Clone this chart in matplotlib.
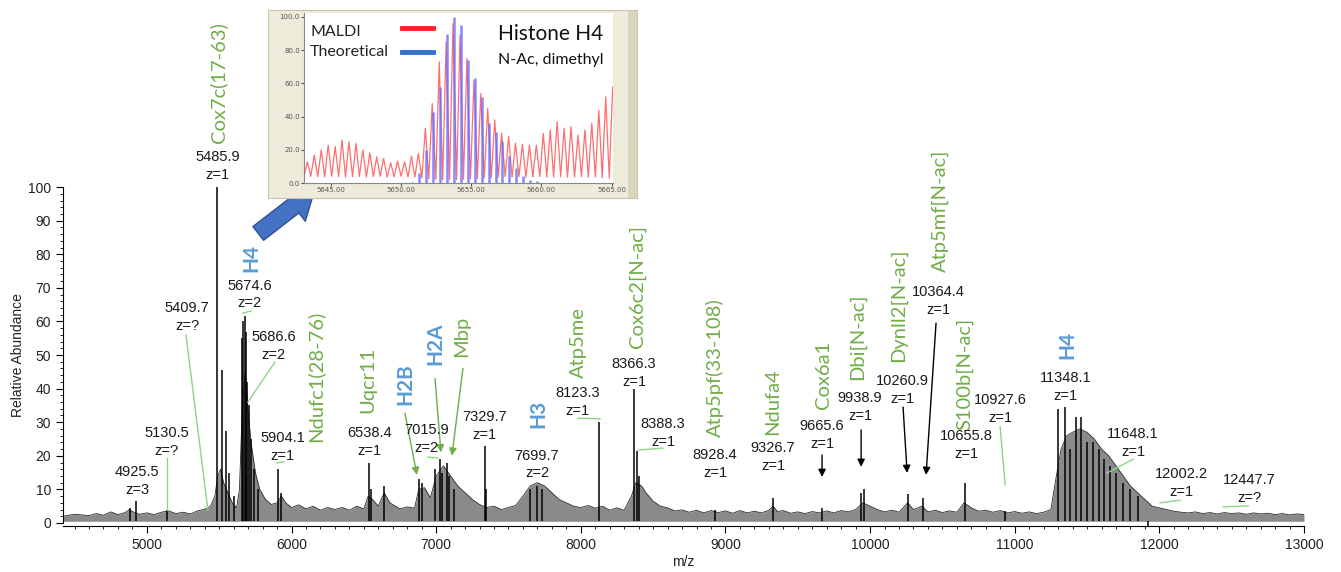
import numpy as np
import matplotlib.pyplot as plt
from matplotlib.ticker import MultipleLocator, FixedLocator, FormatStrFormatter

# ---------------- main spectrum data ----------------
# upper edge of the dense (gray) trace
env_mz = [4420, 4500, 4600, 4650, 4700, 4750, 4800, 4850, 4880, 4900, 4950, 5000, 5050, 5100,
          5150, 5200, 5250, 5300, 5350, 5400, 5440, 5470, 5490, 5510, 5530, 5560, 5590, 5620,
          5640, 5660, 5680, 5700, 5720, 5750, 5780, 5820, 5860, 5900, 5930, 5960, 6000, 6050,
          6100, 6150, 6200, 6250, 6300, 6350, 6400, 6450, 6500, 6530, 6560, 6600, 6640, 6680,
          6750, 6800, 6850, 6880, 6920, 6960, 7000, 7050, 7100, 7150, 7200, 7250, 7300, 7350,
          7400, 7450, 7500, 7550, 7600, 7650, 7700, 7750, 7800, 7850, 7900, 7950, 8000, 8050,
          8100, 8150, 8200, 8250, 8300, 8350, 8380, 8420, 8450, 8500, 8550, 8600, 8650, 8700,
          8750, 8800, 8850, 8900, 8950, 9000, 9050, 9100, 9150, 9200, 9250, 9300, 9330, 9360,
          9400, 9450, 9500, 9550, 9600, 9650, 9700, 9750, 9800, 9850, 9900, 9950, 10000, 10050,
          10100, 10150, 10200, 10260, 10300, 10360, 10400, 10450, 10500, 10550, 10600, 10650,
          10700, 10750, 10800, 10850, 10900, 10950, 11000, 11050, 11100, 11150, 11200, 11250,
          11280, 11320, 11360, 11400, 11450, 11500, 11550, 11600, 11650, 11700, 11750, 11800,
          11850, 11900, 11950, 12000, 12050, 12100, 12150, 12200, 12250, 12300, 12350, 12400,
          12450, 12500, 12550, 12600, 12650, 12700, 12750, 12800, 12850, 12900, 12950, 13000]
env_top = [2.0, 2.6, 2.2, 2.8, 2.3, 3.3, 2.5, 3.1, 4.0, 3.4, 2.6, 3.0, 2.5, 3.2,
           3.6, 2.8, 3.2, 2.7, 3.6, 4.1, 5.0, 8.0, 14.0, 16.0, 12.0, 9.0, 6.0, 4.5,
           10.0, 35.0, 45.0, 33.0, 24.0, 15.0, 10.0, 7.0, 5.5, 6.0, 8.0, 6.0, 4.6, 5.4,
           4.2, 5.0, 3.8, 4.6, 4.0, 4.6, 3.8, 5.0, 4.2, 8.0, 7.0, 5.0, 9.0, 6.0,
           4.2, 4.8, 4.4, 10.0, 10.5, 7.5, 14.0, 17.0, 14.0, 11.0, 9.0, 7.0, 5.5, 4.6,
           5.0, 4.0, 4.6, 5.2, 8.0, 11.0, 12.0, 11.0, 9.0, 7.0, 6.0, 5.0, 4.6, 5.2,
           4.4, 5.0, 3.8, 4.5, 3.8, 8.0, 12.0, 11.0, 9.0, 6.5, 5.0, 4.5, 3.6, 3.9,
           3.2, 3.8, 3.0, 3.7, 3.1, 3.6, 2.9, 3.7, 3.0, 3.5, 3.0, 3.8, 5.0, 3.4,
           3.7, 2.9, 3.3, 2.8, 3.4, 3.0, 3.6, 3.0, 3.7, 3.3, 4.0, 6.0, 5.0, 4.0,
           3.3, 3.8, 3.2, 6.0, 4.0, 5.0, 3.3, 3.8, 3.1, 3.6, 3.2, 6.0,
           4.5, 3.5, 3.8, 3.2, 3.7, 3.0, 3.4, 2.9, 3.3, 2.8, 3.2, 4.0,
           12.0, 22.0, 26.0, 27.0, 28.0, 27.0, 25.0, 22.0, 20.0, 17.0, 14.0, 11.0,
           9.0, 7.0, 5.0, 4.5, 4.0, 3.5, 3.2, 3.0, 3.3, 2.8, 3.1, 2.7,
           3.1, 2.8, 3.0, 2.6, 3.0, 2.7, 2.9, 2.5, 2.8, 2.4, 2.7, 2.5]

# resolved peaks (black sticks)
peak_mz = [4880, 4925, 5138, 5486, 5520, 5545, 5570, 5600, 5655, 5665, 5675, 5686, 5695,
           5705, 5720, 5740, 5770, 5904, 5925, 6538, 6548, 6640, 6880, 6900, 6990, 7026,
           7040, 7075, 7090, 7120, 7337, 7345, 7650, 7700, 7730, 8125, 8366, 8388, 8400,
           8930, 9329, 9668, 9938, 9960, 10260, 10364, 10656, 10930, 11300, 11349, 11380,
           11425, 11459, 11500, 11540, 11580, 11620, 11660, 11700, 11750, 11800, 11850, 11922]
peak_height = [4.5, 6.5, 4.0, 100, 45.5, 27.5, 15, 8, 55, 60, 61.5, 57, 42,
               35, 25, 16, 10, 16, 9, 18, 10, 11, 13, 12, 16, 19,
               15, 18, 14, 10, 23, 10, 10, 11, 10, 30, 40, 21.5, 14,
               4, 7.5, 4.5, 9, 10, 8.5, 7.5, 12, 3.5, 34, 34.5, 22,
               31.5, 31.5, 24, 24, 22, 19, 17, 15, 12, 10, 8, -2.5]

label_mass = ["4925.5", "5130.5", "5409.7", "5485.9", "5674.6", "5686.6", "5904.1",
              "6538.4", "7015.9", "7329.7", "7699.7", "8123.3", "8366.3", "8388.3",
              "8928.4", "9326.7", "9665.6", "9938.9", "10260.9", "10364.4", "10655.8",
              "10927.6", "11348.1", "11648.1", "12002.2", "12447.7"]
label_charge = ["3", "?", "?", "1", "2", "2", "1",
                "1", "2", "1", "2", "1", "1", "1",
                "1", "1", "1", "1", "1", "1", "1",
                "1", "1", "1", "1", "?"]
protein_names = ["Cox7c(17-63)", "Ndufc1(28-76)", "Uqcr11", "Mbp", "Atp5me", "Cox6c2[N-ac]",
                 "Atp5pf(33-108)", "Ndufa4", "Cox6a1", "Dbi[N-ac]", "Dynll2[N-ac]",
                 "Atp5mf[N-ac]", "S100b[N-ac]"]
histone_names = ["H4", "H2B", "H2A", "H3", "H4"]

# ---------------- inset (Histone H4) data ----------------
maldi_mz = [5643.34, 5643.83, 5644.33, 5644.82, 5645.32, 5645.81, 5646.30, 5646.80, 5647.29,
            5647.79, 5648.28, 5648.77, 5649.27, 5649.76, 5650.26, 5650.75, 5651.24, 5651.74,
            5652.23, 5652.73, 5653.22, 5653.71, 5654.21, 5654.70, 5655.20, 5655.69, 5656.18,
            5656.68, 5657.17, 5657.67, 5658.16, 5658.65, 5659.15, 5659.64, 5660.14, 5660.63,
            5661.12, 5661.62, 5662.11, 5662.61, 5663.10, 5663.59, 5664.09, 5664.58, 5665.08]
maldi_height = [12.8, 16.8, 20.0, 22.8, 22.0, 25.9, 24.8, 23.8, 19.8, 18.2, 15.8, 14.8, 12.2,
                13.2, 12.8, 16.2, 17.8, 32.9, 47.9, 72.9, 85.0, 96.0, 89.0, 75.0, 62.0, 54.0,
                45.0, 38.0, 30.0, 28.0, 24.0, 23.4, 22.8, 22.8, 29.9, 31.9, 36.9, 32.9, 33.9,
                28.9, 31.9, 35.9, 43.9, 51.9, 57.9]
maldi_valley = [3.5, 4.0, 3.8, 3.6, 4.0, 3.8, 3.5, 3.8, 4.0, 3.6, 3.8, 4.0, 3.5,
                3.8, 4.0, 3.6, 3.5, 3.0, 2.5, 2.2, 2.0, 2.0, 2.0, 2.2, 2.5, 2.8,
                3.0, 3.2, 3.5, 3.8, 3.5, 3.8, 3.5, 3.6, 3.8, 3.5, 3.6, 3.8, 3.5,
                3.6, 3.8, 3.5, 3.6, 3.2, 3.0]
theo_mz = [5650.80, 5651.30, 5651.80, 5652.29, 5652.79, 5653.28, 5653.77, 5654.27, 5654.76,
           5655.26, 5655.75, 5656.24, 5656.74, 5657.23, 5657.73, 5658.22, 5658.71, 5659.21,
           5659.70]
theo_height = [0.5, 6, 20, 43, 58, 90, 100, 95, 74, 63, 52, 36, 31, 25, 16, 9, 4, 2, 1]

# ---------------- figure ----------------
W, H = 1341, 572
fig = plt.figure(figsize=(W / 100, H / 100), dpi=100)
ax = fig.add_axes([63 / W, 1 - 526 / H, (1304 - 63) / W, 526 / H])

ax.fill_between(env_mz, 0.5, env_top, color='#8a8a8a', lw=0, zorder=1)
ax.plot(env_mz, env_top, color='#2a2a2a', lw=0.6, zorder=2)
ax.vlines(peak_mz, 0.5, peak_height, color='black', lw=1.1, zorder=3)

ax.set_xlim(4420, 13000)
ax.set_ylim(-0.9, 155.7)
for s in ['top', 'right']:
    ax.spines[s].set_visible(False)
ax.spines['left'].set_bounds(0, 100)
ax.set_yticks(range(0, 101, 10))
ax.yaxis.set_minor_locator(FixedLocator(range(0, 101, 2)))
ax.xaxis.set_major_locator(MultipleLocator(1000))
ax.xaxis.set_minor_locator(MultipleLocator(100))
ax.tick_params(which='major', length=5, labelsize=10)
ax.tick_params(which='minor', length=2.5)
for lab in ax.get_xticklabels() + ax.get_yticklabels():
    lab.set_family('Liberation Sans')
    lab.set_color('#222222')

fig.text(18 / W, 1 - 355 / H, 'Relative Abundance', rotation=90, ha='center', va='center',
         fontsize=10, family='Liberation Sans', color='#222222')
fig.text(683 / W, 1 - 562 / H, 'm/z', ha='center', va='center', fontsize=10,
         family='Liberation Sans', color='#222222')

green = '#70AD47'
pale_green = '#8fd48a'
blue = '#5B9BD5'

# black mass / charge labels
label_pos = [(4934, 12.5), (5138, 24), (5277, 61.3), (5491, 106.3), (5712, 68), (5878, 52.7),
             (5937, 22.6), (6542, 24), (6936, 24.9), (7337, 28.9), (7697, 17.4), (7977, 36),
             (8368, 44.6), (8568, 26.8), (8928, 17.6), (9329, 19.6), (9668, 26.3), (9931, 34.5),
             (10221, 39.7), (10470, 66.2), (10664, 23.1), (10899, 33.9), (11349, 40.6),
             (11819, 23.7), (12151, 11.8), (12621, 10)]
for mass, z, (x, y) in zip(label_mass, label_charge, label_pos):
    ax.text(x, y, f"{mass}\nz={z}", ha='center', va='center', fontsize=10.5,
            family='Liberation Sans', color='#1a1a1a', linespacing=1.35, zorder=5)

# green protein names
name_pos = [(5491, 113), (6162, 24.1), (6528, 32.7), (7178, 49.4), (7981, 43.2), (8389, 52),
            (8928, 25.6), (9329, 26.2), (9675, 33.9), (9910, 42.6), (10194, 48),
            (10484, 74.7), (10657, 27.7)]
for name, (x, y) in zip(protein_names, name_pos):
    ax.text(x, y, name, rotation=90, ha='center', va='bottom', fontsize=14.5,
            family='Lato', color=green, zorder=5)

# blue histone names
histone_pos = [(5719, 74.7), (6784, 35.1), (6992, 47), (7704, 28.3), (11362, 48.8)]
for name, (x, y) in zip(histone_names, histone_pos):
    ax.text(x, y, name, rotation=90, ha='center', va='bottom', fontsize=15,
            family='Lato', fontweight='bold', color=blue, zorder=5)

# thin green leader lines
leaders = [((5138, 19.3), (5138, 3.9)), ((5270, 56), (5422, 3.9)),
           ((5664, 62.5), (5719, 63.1)), ((5885, 47.9), (5698, 36)),
           ((5899, 17.9), (5947, 18.2)), ((6943, 19.6), (7012, 19.3)),
           ((7981, 31.2), (8133, 31)), ((8396, 21.7), (8568, 22.3)),
           ((10899, 28.6), (10934, 11.3)), ((11819, 19), (11639, 14.9)),
           ((12005, 6), (12143, 6.8)), ((12441, 4.8), (12614, 5.1))]
for (x0, y0), (x1, y1) in leaders:
    ax.plot([x0, x1], [y0, y1], color=pale_green, lw=1, zorder=4)

# green arrows
for start, end in [((6784, 32.7), (6867, 14.3)), ((6992, 43), (7033, 21)),
                   ((7185, 46), (7109, 20))]:
    ax.annotate('', xy=end, xytext=start,
                arrowprops=dict(arrowstyle='-|>', color=green, lw=1, mutation_scale=11,
                                shrinkA=0, shrinkB=0), zorder=4)

# black arrows
for start, end in [((9668, 20.2), (9668, 13.7)), ((9938, 27.7), (9938, 16.7)),
                   ((10228, 34.5), (10256, 14.9)), ((10456, 59.5), (10387, 14.3))]:
    ax.annotate('', xy=end, xytext=start,
                arrowprops=dict(arrowstyle='-|>', color='black', lw=1, mutation_scale=11,
                                shrinkA=0, shrinkB=0), zorder=4)

# big blue arrow pointing to the inset
ax.annotate('', xy=(6160, 99.2), xytext=(5770, 86.2),
            arrowprops=dict(arrowstyle='simple,head_length=0.8,head_width=1.15,tail_width=0.52',
                            fc='#4472C4', ec='#2F528F', lw=1, mutation_scale=24,
                            shrinkA=0, shrinkB=0), zorder=6)

# ---------------- inset ----------------
frame = fig.add_axes([268 / W, 1 - 198 / H, (637 - 268) / W, (198 - 10) / H], zorder=3)
frame.set_facecolor('#EFEBDB')
frame.set_xticks([])
frame.set_yticks([])
for s in frame.spines.values():
    s.set_edgecolor('#C9C5AE')
frame.axvspan(0.975, 1.0, color='#D8D4BE', lw=0)
frame.set_xlim(0, 1)

ins = fig.add_axes([304 / W, 1 - 183 / H, (613 - 304) / W, (183 - 13) / H], zorder=4)
ins.set_facecolor('white')
trace_x, trace_y = [], []
for x, h, v in zip(maldi_mz, maldi_height, maldi_valley):
    trace_x += [x - 0.247, x]
    trace_y += [v, h]
ins.plot(trace_x, trace_y, color='#ff4a4a', lw=0.9, alpha=0.8)
ins.vlines(theo_mz, 0, theo_height, color='#6a6aff', lw=1.8, alpha=0.8)
ins.set_xlim(5643.1, 5665.1)
ins.set_ylim(0, 102.4)
ins.set_xticks([5645, 5650, 5655, 5660, 5665])
ins.set_yticks([0, 20, 40, 60, 80, 100])
ins.xaxis.set_major_formatter(FormatStrFormatter('%.2f'))
ins.yaxis.set_major_formatter(FormatStrFormatter('%.1f'))
ins.tick_params(labelsize=5, length=2, pad=1, colors='#555555')
for s in ['top', 'right']:
    ins.spines[s].set_visible(False)
for s in ['left', 'bottom']:
    ins.spines[s].set_color('#888888')

ins.text(0.02, 0.888, 'MALDI', transform=ins.transAxes, fontsize=11.5, family='Lato',
         va='center', color='#222222')
ins.text(0.02, 0.771, 'Theoretical', transform=ins.transAxes, fontsize=11.5, family='Lato',
         va='center', color='#222222')
ins.plot([0.317, 0.417], [0.912, 0.912], transform=ins.transAxes, color='#ff2020', lw=3.5)
ins.plot([0.317, 0.417], [0.771, 0.771], transform=ins.transAxes, color='#3070d0', lw=3.5)
ins.text(0.797, 0.876, 'Histone H4', transform=ins.transAxes, fontsize=15, family='Lato',
         ha='center', va='center', color='#111111')
ins.text(0.797, 0.724, 'N-Ac, dimethyl', transform=ins.transAxes, fontsize=11.5,
         family='Lato', ha='center', va='center', color='#111111')

fig.savefig('out.png', dpi=100)
